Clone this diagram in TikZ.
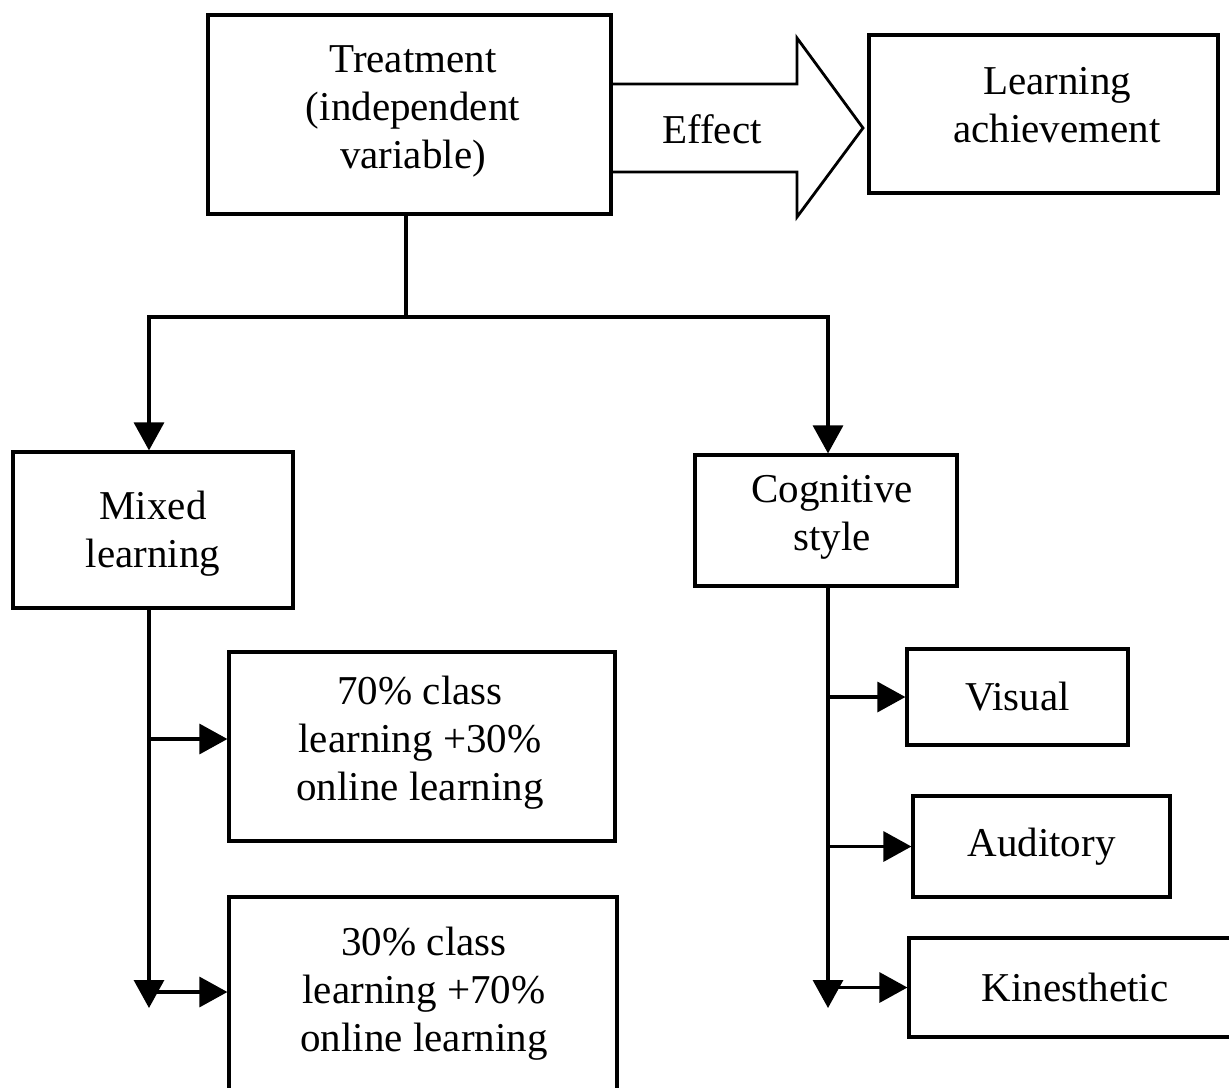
\documentclass[tikz,border=0pt]{standalone}
\usepackage{fontspec}
\setmainfont{Liberation Serif}
\usetikzlibrary{positioning, arrows.meta}

\begin{document}
\begin{tikzpicture}[x=0.5pt, y=-0.5pt,
        txt/.style={align=center, inner sep=0pt, font=\fontsize{20.5}{24}\selectfont},
        box/.style={txt, draw, line width=1.6pt},
        conn/.style={line width=1.6pt},
        arr/.style={conn, -{Triangle[length=14pt, width=15pt]}}
    ]
    \useasboundingbox (0,0) rectangle (1229,1087);

    % top row
    \node[box, minimum width=201.5pt, minimum height=99.5pt] (treat) at (409.5,114.5) {};
    \node[txt] at (413,111) {Treatment\\(independent\\variable)};
    \node[box, minimum width=174.5pt, minimum height=79pt] (achieve) at (1043.5,114) {};
    \node[txt] at (1057,105) {Learning\\achievement};

    % effect arrow
    \draw[conn, line width=1.4pt] (611,84) -- (797,84) -- (797,38) -- (863,128)
        -- (797,217) -- (797,172) -- (611,172);
    \node[txt] (effect) at (712,129) {Effect};

    % second row
    \node[box, minimum width=140pt, minimum height=78pt] (mixed) at (153,530) {};
    \node[txt] at (153,534) {Mixed\\learning};
    \node[box, minimum width=131pt, minimum height=65.5pt] (cog) at (826,520.5) {};
    \node[txt] at (832,517) {Cognitive\\style};

    % mixed learning options
    \node[box, minimum width=193pt, minimum height=94.5pt] (seventy) at (422,746.5) {};
    \node[txt] at (420,743) {70\% class\\learning +30\%\\online learning};
    \node[box, minimum width=194pt, minimum height=100pt] (thirty) at (423,997) {};
    \node[txt] at (424,994) {30\% class\\learning +70\%\\online learning};

    % cognitive styles
    \node[box, minimum width=110.5pt, minimum height=48pt] (visual) at (1017.5,697) {Visual};
    \node[box, minimum width=128.5pt, minimum height=50.5pt] (auditory) at (1041.5,846.5) {Auditory};
    \node[box, minimum width=166pt, minimum height=49.5pt] (kines) at (1075,987.5) {Kinesthetic};

    % connectors
    \coordinate (fork) at (406,317);
    \coordinate (lend) at (149,1008);
    \coordinate (rend) at (828,1008);
    \draw[conn] (fork |- treat.south) -- (fork);
    \draw[arr] (fork) -| (mixed.north -| lend);
    \draw[arr] (fork) -| (cog.north -| rend);

    \draw[arr] (mixed.south -| lend) -- (lend);
    \draw[arr] (lend |- 0,739) -- (seventy.west |- 0,739);
    \draw[arr] (lend |- 0,992) -- (thirty.west |- 0,992);

    \draw[arr] (cog.south -| rend) -- (rend);
    \draw[arr] (rend |- visual.west) -- (visual.west);
    \draw[arr] (rend |- auditory.west) -- (auditory.west);
    \draw[arr] (rend |- kines.west) -- (kines.west);
\end{tikzpicture}
\end{document}
